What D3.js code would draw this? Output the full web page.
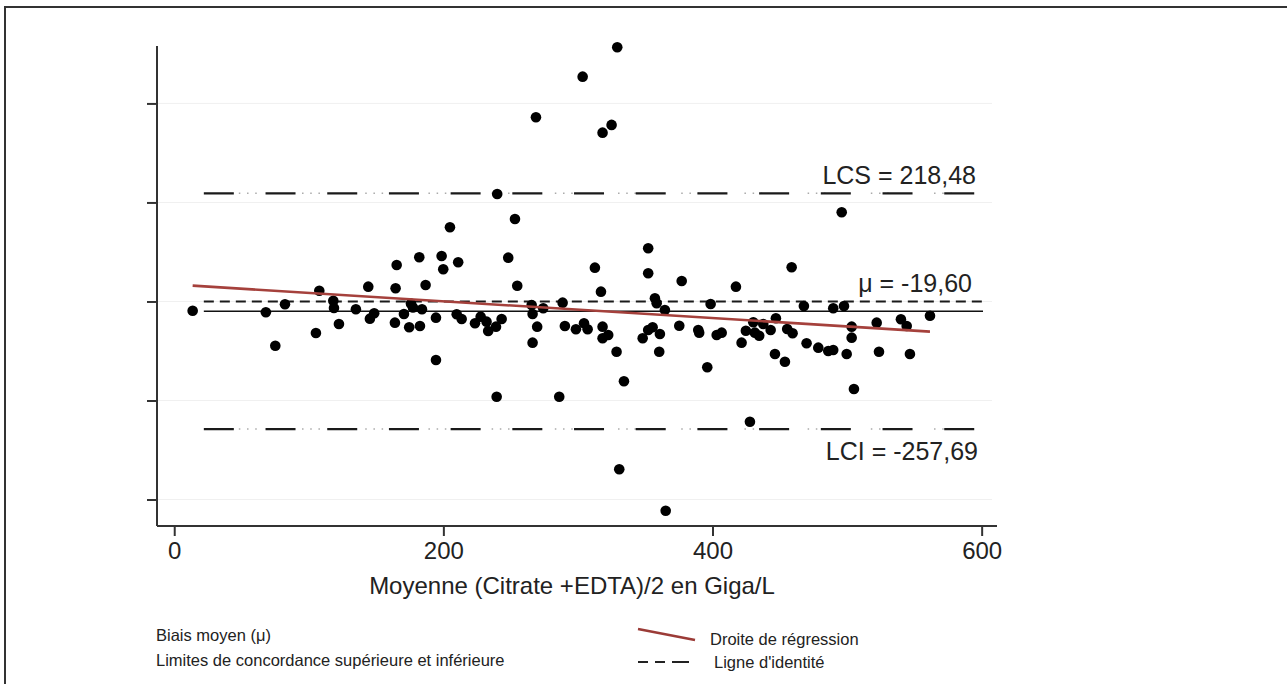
<!DOCTYPE html>
<html>
<head>
<meta charset="utf-8">
<script src="https://cdn.jsdelivr.net/npm/d3@7"></script>
<style>
  body { margin: 0; background: #fff; }
  svg { display: block; font-family: "Liberation Sans", Arial, sans-serif; }
</style>
</head>
<body>
<svg id="chart"></svg>
<script>
// mean of the two measures (x) and their difference (y)
const meanValues = [
  13.7, 68.1, 75.1, 82.3, 105.3, 107.8, 118.2, 118.7, 122.4, 135.0,
  144.2, 145.4, 148.6, 164.0, 164.5, 165.3, 170.7, 174.6, 175.9, 177.4,
  182.1, 182.6, 184.1, 186.8, 194.5, 194.5, 198.7, 199.9, 204.9, 209.9,
  211.0, 213.6, 223.5, 227.7, 232.1, 233.3, 239.1, 239.6, 240.0, 243.3,
  248.2, 253.2, 254.9, 265.6, 266.3, 266.3, 268.8, 269.7, 274.2, 286.1,
  288.6, 290.3, 298.5, 303.5, 304.5, 307.2, 312.6, 317.1, 318.3, 318.3,
  318.3, 322.5, 325.0, 328.7, 329.2, 330.7, 334.2, 348.1, 352.2, 352.2,
  352.2, 355.5, 357.2, 358.5, 360.4, 360.9, 364.6, 365.2, 375.3, 377.1,
  389.4, 390.1, 396.1, 398.6, 403.1, 406.8, 417.4, 421.6, 424.8, 427.8,
  430.3, 431.5, 434.7, 437.7, 443.2, 446.4, 447.1, 453.8, 455.5, 458.8,
  459.5, 467.9, 469.9, 478.6, 486.0, 489.7, 489.7, 496.0, 497.7, 499.7,
  503.4, 503.4, 505.1, 522.0, 523.7, 540.0, 544.3, 546.7, 561.6
];
const diffValues = [
  -18.6, -21.8, -89.3, -5.7, -63.6, 21.8, 1.6, -13.1, -45.5, -15.8,
  29.9, -34.7, -23.8, -42.8, 26.7, 73.7, -25.3, -52.1, -4.0, -12.1,
  89.3, -49.5, -15.8, 33.3, -32.7, -118.2, 91.9, 65.1, 149.9, -25.9,
  79.2, -35.4, -44.0, -30.7, -40.8, -59.6, -50.9, -192.3, 217.2, -35.4,
  88.5, 166.7, 31.9, -7.1, -25.3, -83.2, 372.1, -50.9, -13.7, -192.3,
  -2.4, -49.5, -56.2, 454.1, -44.0, -56.2, 68.3, 19.8, 341.0, -50.9,
  -74.3, -67.7, 356.6, -101.4, 513.5, -339.0, -161.2, -74.3, 107.5, 57.0,
  -57.6, -52.1, 6.5, -3.6, -101.4, -65.7, -17.2, -422.6, -48.9, 41.4,
  -57.6, -63.0, -132.9, -5.1, -67.7, -63.0, 29.9, -83.2, -59.0, -242.8,
  -42.0, -63.0, -69.1, -45.5, -57.6, -106.1, -33.9, -121.6, -55.6, 69.1,
  -64.2, -9.1, -84.4, -93.3, -100.0, -13.7, -98.0, 180.2, -9.1, -106.1,
  -50.9, -73.1, -176.8, -42.8, -101.4, -36.0, -49.5, -106.1, -28.7
];

const xTicks = [0, 200, 400, 600];
const yTicks = [-400, -200, 0, 200, 400];

const bias = -19.60;
const upperLimit = 218.48;
const lowerLimit = -257.69;
const regIntercept = 34.3;
const regSlope = -0.1695;
const refLineRange = [22, 601];

const width = 1287, height = 684;
const svg = d3.select("#chart").attr("width", width).attr("height", height);

// outer frame (cut by the right and bottom edges)
svg.append("rect")
  .attr("x", 5).attr("y", 7)
  .attr("width", 1400).attr("height", 800)
  .attr("fill", "none")
  .attr("stroke", "#333")
  .attr("stroke-width", 2);

const plot = { left: 157, right: 997, top: 46, bottom: 526 };

const xScale = d3.scaleLinear().domain([-12.8, 611.4]).range([plot.left, plot.right]);
const yScale = d3.scaleLinear().domain([-453.5, 516]).range([plot.bottom, plot.top]);

// faint grid
svg.append("g")
  .selectAll("line")
  .data(yTicks)
  .enter()
  .append("line")
  .attr("x1", plot.left).attr("x2", plot.right - 5)
  .attr("y1", d => yScale(d)).attr("y2", d => yScale(d))
  .attr("stroke", "#f0f0f0")
  .attr("stroke-width", 1);

// axes
const yAxis = d3.axisLeft(yScale).tickValues(yTicks).tickSize(10).tickFormat("");
const xAxis = d3.axisBottom(xScale).tickValues(xTicks).tickSize(10).tickPadding(6);

const yAxisGroup = svg.append("g")
  .attr("class", "y axis")
  .attr("transform", `translate(${plot.left},0)`)
  .call(yAxis);
yAxisGroup.select("path.domain").attr("d", `M0,${plot.top}V${plot.bottom}`);

const xAxisGroup = svg.append("g")
  .attr("class", "x axis")
  .attr("transform", `translate(0,${plot.bottom})`)
  .call(xAxis);
xAxisGroup.select("path.domain").attr("d", `M${plot.left},0H${plot.right}`);

svg.selectAll("g.axis").selectAll("path.domain, line")
  .attr("stroke", "#333")
  .attr("stroke-width", 2);
xAxisGroup.selectAll("text")
  .style("font-size", "24px")
  .style("font-family", "Liberation Sans, Arial, sans-serif")
  .attr("fill", "#222");

// limits of agreement: long dash + three light dots
const drawLimit = (value) => {
  const y = yScale(value);
  svg.append("line")
    .attr("x1", xScale(refLineRange[0])).attr("x2", xScale(refLineRange[1]))
    .attr("y1", y).attr("y2", y)
    .attr("stroke", "#aaa")
    .attr("stroke-width", 1.5)
    .attr("stroke-dasharray", "0 35 1.5 6.7 1.5 6.7 1.5 10.3");
  svg.append("line")
    .attr("x1", xScale(refLineRange[0])).attr("x2", xScale(refLineRange[1]))
    .attr("y1", y).attr("y2", y)
    .attr("stroke", "#1a1a1a")
    .attr("stroke-width", 2.2)
    .attr("stroke-dasharray", "30 31.7");
};
drawLimit(upperLimit);
drawLimit(lowerLimit);

// identity (zero) line
svg.append("line")
  .attr("x1", xScale(refLineRange[0])).attr("x2", xScale(refLineRange[1]))
  .attr("y1", yScale(0)).attr("y2", yScale(0))
  .attr("stroke", "#1a1a1a")
  .attr("stroke-width", 2)
  .attr("stroke-dasharray", "10 6");

// mean bias
svg.append("line")
  .attr("x1", xScale(refLineRange[0])).attr("x2", xScale(refLineRange[1]))
  .attr("y1", yScale(bias)).attr("y2", yScale(bias))
  .attr("stroke", "#111")
  .attr("stroke-width", 1.6);

// points
const points = meanValues.map((m, i) => ({ m, d: diffValues[i] }));
svg.append("g")
  .selectAll("circle")
  .data(points)
  .enter()
  .append("circle")
  .attr("cx", d => xScale(d.m))
  .attr("cy", d => yScale(d.d))
  .attr("r", 5.3)
  .attr("fill", "#000");

// regression line
const xExtent = d3.extent(meanValues);
svg.append("line")
  .attr("x1", xScale(xExtent[0])).attr("x2", xScale(xExtent[1]))
  .attr("y1", yScale(regIntercept + regSlope * xExtent[0]))
  .attr("y2", yScale(regIntercept + regSlope * xExtent[1]))
  .attr("stroke", "#a5413c")
  .attr("stroke-width", 2.6);

// value labels
const fmt = v => v.toFixed(2).replace(".", ",");
const labels = [
  { text: `LCS = ${fmt(upperLimit)}`, x: 976, y: 184 },
  { text: `\u03bc = ${fmt(bias)}`, x: 972, y: 292 },
  { text: `LCI = ${fmt(lowerLimit)}`, x: 978, y: 460 }
];
svg.append("g")
  .selectAll("text")
  .data(labels)
  .enter()
  .append("text")
  .attr("x", d => d.x).attr("y", d => d.y)
  .attr("text-anchor", "end")
  .style("font-size", "25px")
  .attr("fill", "#222")
  .text(d => d.text);

// axis title
svg.append("text")
  .attr("x", 572).attr("y", 594)
  .attr("text-anchor", "middle")
  .style("font-size", "24px")
  .attr("fill", "#222")
  .text("Moyenne (Citrate +EDTA)/2 en Giga/L");

// legend
const legend = svg.append("g").style("font-size", "16.5px").attr("fill", "#222");
legend.append("text").attr("x", 156).attr("y", 641).text("Biais moyen (\u03bc)");
legend.append("text").attr("x", 156).attr("y", 666).text("Limites de concordance supérieure et inférieure");
legend.append("line")
  .attr("x1", 638).attr("y1", 629).attr("x2", 695).attr("y2", 640)
  .attr("stroke", "#9b3b37").attr("stroke-width", 2.6);
legend.append("text").attr("x", 710).attr("y", 645).text("Droite de régression");
legend.append("line")
  .attr("x1", 638).attr("y1", 662).attr("x2", 695).attr("y2", 662)
  .attr("stroke", "#222").attr("stroke-width", 2)
  .attr("stroke-dasharray", "10 7 10 7 17");
legend.append("text").attr("x", 714).attr("y", 668).text("Ligne d'identité");
</script>
</body>
</html>
